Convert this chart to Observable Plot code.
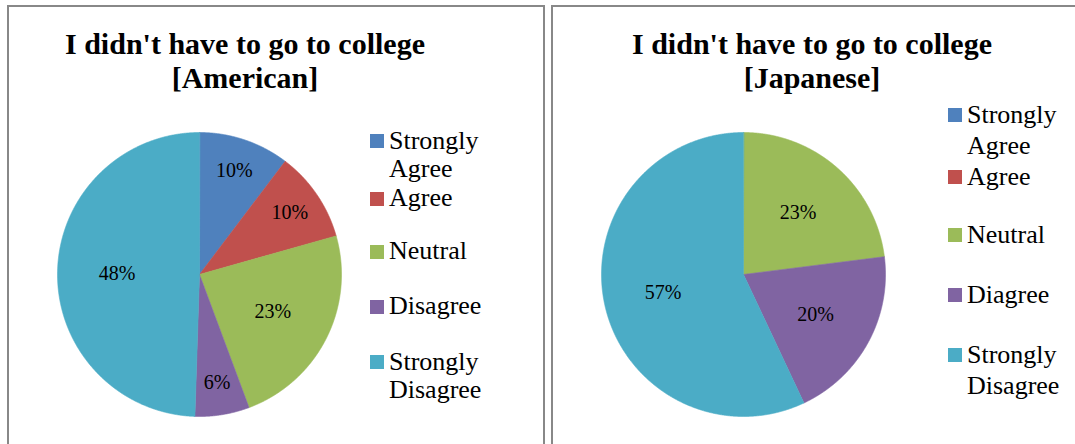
<!DOCTYPE html>
<html>
<head>
<meta charset="utf-8">
<script src="https://cdn.jsdelivr.net/npm/d3@7"></script>
<script src="https://cdn.jsdelivr.net/npm/@observablehq/plot@0.6"></script>
<style>
  html, body { margin: 0; padding: 0; background: #fff; width: 1075px; height: 444px; overflow: hidden; }
  body { position: relative; font-family: "Liberation Serif", "Times New Roman", serif; color: #000; }
  .panel { position: absolute; top: 5px; height: 470px; box-sizing: border-box; border: 2px solid #888; border-bottom: none; }
  .title { position: absolute; top: 27px; font-weight: bold; font-size: 30px; line-height: 34px; text-align: center; }
  .pie { position: absolute; }
  .lg-item { position: absolute; font-size: 26px; width: 110px; }
  .lg-sw { position: absolute; width: 14px; height: 14px; }
</style>
</head>
<body>
<div class="panel" style="left:7px; width:538px;"></div>
<div class="panel" style="left:551px; width:540px;"></div>
<div id="root"></div>
<script>
// ---- data ----
const categories = ["Strongly Agree", "Agree", "Neutral", "Disagree", "Strongly Disagree"];
const legendLabelsAmerican = ["Strongly Agree", "Agree", "Neutral", "Disagree", "Strongly Disagree"];
const legendLabelsJapanese = ["Strongly Agree", "Agree", "Neutral", "Diagree", "Strongly Disagree"];
const valuesAmerican = [10, 10, 23, 6, 48];
const valuesJapanese = [0, 0, 23, 20, 57];
const colors = ["#4F81BD", "#C0504D", "#9BBB59", "#8064A2", "#4BACC6"];
const titleAmerican = ["I didn't have to go to college", "[American]"];
const titleJapanese = ["I didn't have to go to college", "[Japanese]"];

const root = document.getElementById("root");
const FONT = '"Liberation Serif", "Times New Roman", serif';

function piePlot(values) {
  const table = categories.map((c, i) => ({cat: c, value: values[i]}));
  const arcs = d3.pie().sort(null).value(d => d.value)(table);
  const pts = [];
  const labels = [];
  const step = Math.PI / 720;
  for (const a of arcs) {
    if (a.data.value <= 0) continue;
    pts.push({cat: a.data.cat, x: 0, y: 0});
    const n = Math.max(2, Math.ceil((a.endAngle - a.startAngle) / step));
    for (let k = 0; k <= n; k++) {
      const t = a.startAngle + (a.endAngle - a.startAngle) * k / n;
      pts.push({cat: a.data.cat, x: Math.sin(t), y: Math.cos(t)});
    }
    const frac = (a.endAngle - a.startAngle) / (2 * Math.PI);
    const r = frac < 0.15 ? 0.77 : 0.58;
    const m = (a.startAngle + a.endAngle) / 2;
    labels.push({x: r * Math.sin(m), y: r * Math.cos(m), text: a.data.value + "%"});
  }
  const D = 284;
  return Plot.plot({
    width: D, height: D, margin: 0,
    style: {background: "transparent", overflow: "visible"},
    x: {domain: [-1, 1], axis: null},
    y: {domain: [-1, 1], axis: null},
    color: {domain: categories, range: colors},
    marks: [
      Plot.line(pts, {x: "x", y: "y", z: "cat", fill: "cat", stroke: "cat", strokeWidth: 0.6, curve: "linear-closed"}),
      Plot.text(labels, {x: "x", y: "y", text: "text", fontSize: 20, fontFamily: FONT, fill: "#000"})
    ]
  });
}

function panel(opts) {
  const t = document.createElement("div");
  t.className = "title";
  t.style.left = (opts.titleCx - 260) + "px";
  t.style.width = "520px";
  t.innerHTML = opts.title.map(s => s.replace(/&/g, "&amp;").replace(/</g, "&lt;")).join("<br>");
  root.appendChild(t);

  const p = document.createElement("div");
  p.className = "pie";
  p.style.left = (opts.cx - 142) + "px";
  p.style.top = (opts.cy - 142) + "px";
  p.appendChild(piePlot(opts.values));
  root.appendChild(p);

  const lh = opts.lineHeight;
  // baseline sits ~8px below the swatch centre; keep a small clear gap between items
  const off = 8.3 - ((lh - 28.8) / 2 + 23.2);
  let minTop = -Infinity;
  opts.legend.forEach((lab, i) => {
    let top = opts.lgTop + i * opts.lgStep + off;
    top = Math.max(top, minTop);
    const cy = top - off;
    const sw = document.createElement("div");
    sw.className = "lg-sw";
    sw.style.left = opts.lgX + "px";
    sw.style.top = (cy - 7) + "px";
    sw.style.background = colors[i];
    root.appendChild(sw);
    const tx = document.createElement("div");
    tx.className = "lg-item";
    tx.style.left = (opts.lgX + 19) + "px";
    tx.style.top = top + "px";
    tx.style.lineHeight = lh + "px";
    tx.textContent = lab;
    root.appendChild(tx);
    const h = tx.getBoundingClientRect().height;
    minTop = top + h + Math.max(0, 29.5 - lh);
  });
}

panel({title: titleAmerican, titleCx: 245, cx: 199, cy: 273.5, values: valuesAmerican,
       legend: legendLabelsAmerican, lgX: 370, lgTop: 141, lgStep: 55.3, lineHeight: 28});
panel({title: titleJapanese, titleCx: 812, cx: 743, cy: 273.5, values: valuesJapanese,
       legend: legendLabelsJapanese, lgX: 948, lgTop: 115, lgStep: 60, lineHeight: 31});
</script>
</body>
</html>
